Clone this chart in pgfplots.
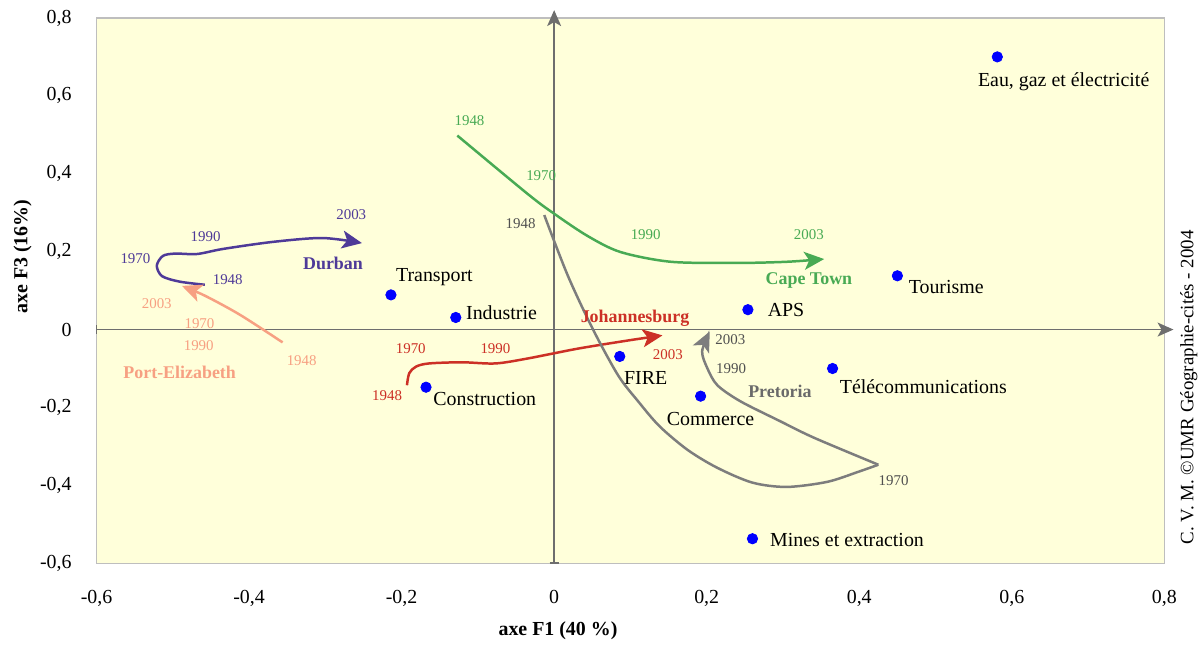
\documentclass[border=0pt]{standalone}
\usepackage{fontspec}
\setmainfont{Liberation Serif}
\usepackage{pgfplots}
\pgfplotsset{compat=1.18}
\usetikzlibrary{arrows.meta}

\definecolor{bgyellow}{RGB}{255,255,218}
\definecolor{framegray}{RGB}{190,190,190}
\definecolor{axgray}{RGB}{110,110,110}
\definecolor{durban}{RGB}{78,58,152}
\definecolor{portel}{RGB}{247,160,130}
\definecolor{joburg}{RGB}{204,48,38}
\definecolor{capetown}{RGB}{72,170,84}
\definecolor{pretoria}{RGB}{125,125,125}
\definecolor{pretxt}{RGB}{80,80,80}

\tikzset{
  yr/.style={font=\fontsize{7.5}{9}\selectfont},
  city/.style={font=\fontsize{9}{11}\selectfont\bfseries},
  lab/.style={font=\fontsize{10}{12}\selectfont},
  traj/.style={smooth, line width=1.25pt, no markers},
  head/.style={-{Stealth[length=10pt,width=9pt,inset=2.5pt]}},
}

\begin{document}
\begin{tikzpicture}
\begin{axis}[
  width=536.5pt, height=274pt, scale only axis,
  xmin=-0.6, xmax=0.8, ymin=-0.6, ymax=0.8,
  clip=false,
  axis line style={draw=framegray, line width=0.6pt},
  axis background/.style={fill=bgyellow},
  xtick={-0.6,-0.4,-0.2,0,0.2,0.4,0.6,0.8},
  xticklabels={{-0,6},{-0,4},{-0,2},0,{0,2},{0,4},{0,6},{0,8}},
  ytick={-0.6,-0.4,-0.2,0,0.2,0.4,0.6,0.8},
  yticklabels={{-0,6},{-0,4},{-0,2},0,{0,2},{0,4},{0,6},{0,8}},
  major tick length=0pt,
  tick label style={font=\fontsize{10}{12}\selectfont},
  xticklabel style={yshift=-10pt},
  yticklabel style={xshift=-9pt},
]

% central axes
\draw[axgray, line width=0.8pt, -{Stealth[length=8pt,width=7pt,inset=2pt]}] (axis cs:0,-0.6) -- (axis cs:0,0.820);
\draw[axgray, line width=0.8pt, -{Stealth[length=8pt,width=7pt,inset=2pt]}] (axis cs:-0.6,0) -- (axis cs:0.812,0);
\draw[axgray, line width=0.8pt] (axis cs:-0.006,-0.6) -- (axis cs:0.006,-0.6);
\draw[axgray, line width=0.8pt] (axis cs:-0.6,-0.011) -- (axis cs:-0.6,0.011);

% Durban
\addplot[traj, durban, head] coordinates {(-0.458,0.115) (-0.491,0.123) (-0.514,0.137) (-0.521,0.164) (-0.513,0.189) (-0.497,0.195) (-0.468,0.194) (-0.434,0.207) (-0.369,0.225) (-0.304,0.235) (-0.252,0.222)};
% Port-Elizabeth
\addplot[traj, portel, head] coordinates {(-0.356,-0.033) (-0.412,0.038) (-0.458,0.087) (-0.488,0.112)};
% Johannesburg
\addplot[traj, joburg, head] coordinates {(-0.193,-0.143) (-0.190,-0.112) (-0.181,-0.095) (-0.164,-0.087) (-0.121,-0.084) (-0.077,-0.087) (-0.034,-0.074) (0.031,-0.049) (0.097,-0.028) (0.142,-0.015)};
% Cape Town
\addplot[traj, capetown, head] coordinates {(-0.127,0.498) (-0.034,0.347) (0.001,0.296) (0.044,0.240) (0.087,0.199) (0.153,0.174) (0.240,0.171) (0.305,0.174) (0.354,0.181)};
% Pretoria
\addplot[traj, pretoria] coordinates {(-0.013,0.294) (0.018,0.138) (0.051,0.0) (0.084,-0.118) (0.110,-0.184) (0.138,-0.248) (0.175,-0.309) (0.214,-0.355) (0.260,-0.393) (0.305,-0.404) (0.358,-0.391) (0.399,-0.365) (0.425,-0.347)};
\addplot[traj, pretoria, head] coordinates {(0.425,-0.347) (0.341,-0.278) (0.296,-0.235) (0.244,-0.184) (0.214,-0.143) (0.201,-0.100) (0.194,-0.056) (0.204,-0.005)};

% sectors
\addplot[only marks, mark=*, mark size=2.6pt, blue, mark options={draw=blue, fill=blue}] coordinates {
  (0.581,0.700) (0.450,0.138) (0.254,0.051) (0.365,-0.100) (0.086,-0.069)
  (0.192,-0.171) (0.260,-0.537) (-0.214,0.089) (-0.129,0.031) (-0.168,-0.148)};

\node[lab] at (axis cs:0.668,0.636) {Eau, gaz et électricité};
\node[lab] at (axis cs:0.514,0.110) {Tourisme};
\node[lab] at (axis cs:0.304,0.051) {APS};
\node[lab] at (axis cs:0.484,-0.146) {Télécommunications};
\node[lab] at (axis cs:0.120,-0.125) {FIRE};
\node[lab] at (axis cs:0.205,-0.230) {Commerce};
\node[lab] at (axis cs:0.384,-0.539) {Mines et extraction};
\node[lab] at (axis cs:-0.157,0.135) {Transport};
\node[lab] at (axis cs:-0.069,0.043) {Industrie};
\node[lab] at (axis cs:-0.091,-0.179) {Construction};

% Durban labels
\node[yr, durban] at (axis cs:-0.428,0.128) {1948};
\node[yr, durban] at (axis cs:-0.549,0.181) {1970};
\node[yr, durban] at (axis cs:-0.457,0.238) {1990};
\node[yr, durban] at (axis cs:-0.266,0.296) {2003};
\node[city, durban] at (axis cs:-0.290,0.169) {Durban};
% Port-Elizabeth labels
\node[yr, portel] at (axis cs:-0.521,0.066) {2003};
\node[yr, portel] at (axis cs:-0.465,0.015) {1970};
\node[yr, portel] at (axis cs:-0.466,-0.041) {1990};
\node[yr, portel] at (axis cs:-0.331,-0.079) {1948};
\node[city, portel] at (axis cs:-0.491,-0.110) {Port-Elizabeth};
% Johannesburg labels
\node[yr, joburg] at (axis cs:-0.219,-0.169) {1948};
\node[yr, joburg] at (axis cs:-0.188,-0.049) {1970};
\node[yr, joburg] at (axis cs:-0.077,-0.049) {1990};
\node[yr, joburg] at (axis cs:0.149,-0.064) {2003};
\node[city, joburg] at (axis cs:0.106,0.028) {Johannesburg};
% Cape Town labels
\node[yr, capetown] at (axis cs:-0.111,0.537) {1948};
\node[yr, capetown] at (axis cs:-0.017,0.396) {1970};
\node[yr, capetown] at (axis cs:0.120,0.243) {1990};
\node[yr, capetown] at (axis cs:0.334,0.243) {2003};
\node[city, capetown] at (axis cs:0.334,0.125) {Cape Town};
% Pretoria labels
\node[yr, pretxt] at (axis cs:-0.044,0.273) {1948};
\node[yr, pretxt] at (axis cs:0.445,-0.388) {1970};
\node[yr, pretxt] at (axis cs:0.232,-0.100) {1990};
\node[yr, pretxt] at (axis cs:0.231,-0.026) {2003};
\node[city, pretoria!85!black] at (axis cs:0.296,-0.158) {Pretoria};

% axis titles and credit
\node[font=\fontsize{10}{12}\selectfont\bfseries] at (axis cs:0.005,-0.772) {axe F1 (40 \%)};
\node[font=\fontsize{10}{12}\selectfont\bfseries, rotate=90] at (axis cs:-0.697,0.187) {axe F3 (16\%)};
\node[font=\fontsize{9.5}{11}\selectfont, rotate=90] at (axis cs:0.832,-0.148) {C. V. M. ©UMR Géographie-cités - 2004};
\end{axis}
\path (-48.5pt,-40pt) rectangle (553.5pt,283pt);
\end{tikzpicture}
\end{document}
